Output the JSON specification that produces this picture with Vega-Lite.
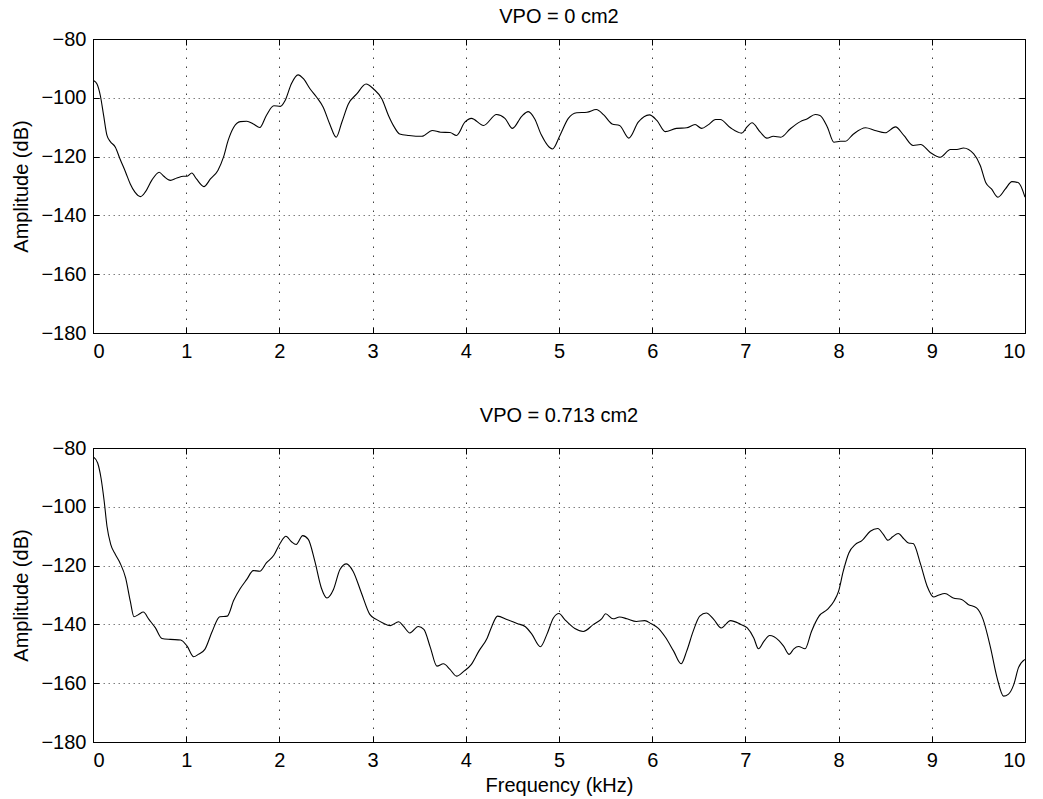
{
  "$schema": "https://vega.github.io/schema/vega-lite/v6.json",
  "background": "white",
  "padding": {"left": 11, "top": 6, "right": 5, "bottom": 0},
  "spacing": 43,
  "config": {
    "font": "Liberation Sans",
    "view": {"stroke": "#000", "strokeWidth": 1},
    "axis": {
      "labelFont": "Liberation Sans",
      "titleFont": "Liberation Sans",
      "labelFontSize": 20,
      "titleFontSize": 20,
      "titleFontWeight": "normal",
      "labelColor": "#000",
      "titleColor": "#000",
      "domainColor": "#000",
      "tickColor": "#000",
      "gridColor": "#000",
      "gridWidth": 1
    },
    "axisX": {"gridDash": [1.5, 7.5], "gridOpacity": 0.75},
    "axisY": {"gridDash": [1.5, 3.5], "gridOpacity": 0.5},
    "title": {"font": "Liberation Sans", "fontSize": 20, "fontWeight": "normal", "color": "#000"}
  },
  "datasets": {
    "top": [
      {"freq": 0.01, "db": -94.2}, {"freq": 0.043, "db": -95.3}, {"freq": 0.079, "db": -99.3}, {"freq": 0.114, "db": -106},
      {"freq": 0.15, "db": -112.8}, {"freq": 0.186, "db": -114.9}, {"freq": 0.24, "db": -116.8}, {"freq": 0.29, "db": -120.8},
      {"freq": 0.35, "db": -125.3}, {"freq": 0.4, "db": -129.3}, {"freq": 0.45, "db": -132.1}, {"freq": 0.51, "db": -133.6},
      {"freq": 0.56, "db": -132.1}, {"freq": 0.63, "db": -128.1}, {"freq": 0.71, "db": -125.3}, {"freq": 0.76, "db": -126.7},
      {"freq": 0.83, "db": -128.1}, {"freq": 0.9, "db": -127.3}, {"freq": 0.97, "db": -126.7}, {"freq": 1.01, "db": -126.7},
      {"freq": 1.06, "db": -125.6}, {"freq": 1.11, "db": -127.6}, {"freq": 1.19, "db": -130.2}, {"freq": 1.26, "db": -127.6},
      {"freq": 1.34, "db": -124.7}, {"freq": 1.4, "db": -120.2}, {"freq": 1.45, "db": -114.5}, {"freq": 1.51, "db": -110},
      {"freq": 1.58, "db": -108.1}, {"freq": 1.65, "db": -108}, {"freq": 1.72, "db": -108.9}, {"freq": 1.79, "db": -110.1},
      {"freq": 1.86, "db": -106}, {"freq": 1.94, "db": -102.7}, {"freq": 2.01, "db": -102.9}, {"freq": 2.06, "db": -101},
      {"freq": 2.13, "db": -95.1}, {"freq": 2.2, "db": -92.2}, {"freq": 2.26, "db": -93.6}, {"freq": 2.33, "db": -97},
      {"freq": 2.4, "db": -99.8}, {"freq": 2.47, "db": -103.2}, {"freq": 2.54, "db": -108.9}, {"freq": 2.61, "db": -113.4},
      {"freq": 2.67, "db": -108.3}, {"freq": 2.74, "db": -102.1}, {"freq": 2.83, "db": -98.7}, {"freq": 2.93, "db": -95.3},
      {"freq": 3.01, "db": -97}, {"freq": 3.1, "db": -100.4}, {"freq": 3.17, "db": -106}, {"freq": 3.23, "db": -109.8},
      {"freq": 3.29, "db": -112.3}, {"freq": 3.39, "db": -112.8}, {"freq": 3.53, "db": -113.1}, {"freq": 3.64, "db": -111.1},
      {"freq": 3.73, "db": -111.7}, {"freq": 3.83, "db": -111.8}, {"freq": 3.9, "db": -112.8}, {"freq": 3.99, "db": -108.3},
      {"freq": 4.06, "db": -107}, {"freq": 4.19, "db": -109.4}, {"freq": 4.33, "db": -105.7}, {"freq": 4.42, "db": -107},
      {"freq": 4.5, "db": -110.4}, {"freq": 4.6, "db": -106.3}, {"freq": 4.67, "db": -104.7}, {"freq": 4.74, "db": -107.2},
      {"freq": 4.81, "db": -112.6}, {"freq": 4.93, "db": -117.4}, {"freq": 5.01, "db": -112.8}, {"freq": 5.1, "db": -107},
      {"freq": 5.19, "db": -105.1}, {"freq": 5.3, "db": -104.9}, {"freq": 5.4, "db": -104}, {"freq": 5.48, "db": -105.8},
      {"freq": 5.57, "db": -108.9}, {"freq": 5.65, "db": -109.4}, {"freq": 5.75, "db": -113.7}, {"freq": 5.85, "db": -108.3},
      {"freq": 5.97, "db": -105.8}, {"freq": 6.05, "db": -107.7}, {"freq": 6.14, "db": -111.5}, {"freq": 6.26, "db": -110.4},
      {"freq": 6.37, "db": -110.2}, {"freq": 6.46, "db": -109.1}, {"freq": 6.53, "db": -110.4}, {"freq": 6.6, "db": -109.2},
      {"freq": 6.68, "db": -107.4}, {"freq": 6.73, "db": -107.4}, {"freq": 6.84, "db": -110.2}, {"freq": 6.96, "db": -112},
      {"freq": 7.02, "db": -109.8}, {"freq": 7.07, "db": -108.5}, {"freq": 7.16, "db": -111.7}, {"freq": 7.23, "db": -113.7},
      {"freq": 7.3, "db": -113.1}, {"freq": 7.38, "db": -113.4}, {"freq": 7.48, "db": -110.6}, {"freq": 7.59, "db": -108.1},
      {"freq": 7.66, "db": -107.2}, {"freq": 7.75, "db": -105.7}, {"freq": 7.8, "db": -106}, {"freq": 7.88, "db": -110},
      {"freq": 7.95, "db": -115.1}, {"freq": 8.02, "db": -114.8}, {"freq": 8.07, "db": -114.8}, {"freq": 8.16, "db": -112.3},
      {"freq": 8.29, "db": -110.2}, {"freq": 8.39, "db": -111.1}, {"freq": 8.5, "db": -111.9}, {"freq": 8.61, "db": -109.9},
      {"freq": 8.7, "db": -112.8}, {"freq": 8.8, "db": -116.2}, {"freq": 8.88, "db": -115.9}, {"freq": 8.98, "db": -118.5},
      {"freq": 9.09, "db": -120.2}, {"freq": 9.2, "db": -117.6}, {"freq": 9.27, "db": -117.6}, {"freq": 9.34, "db": -117.1},
      {"freq": 9.45, "db": -119.1}, {"freq": 9.52, "db": -123}, {"freq": 9.58, "db": -128.9}, {"freq": 9.64, "db": -131},
      {"freq": 9.71, "db": -133.8}, {"freq": 9.79, "db": -131}, {"freq": 9.86, "db": -128.5}, {"freq": 9.93, "db": -128.9},
      {"freq": 10.0, "db": -133.8}
    ],
    "bottom": [
      {"freq": 0.01, "db": -83.2}, {"freq": 0.05, "db": -85.1}, {"freq": 0.086, "db": -90.2}, {"freq": 0.12, "db": -98.1},
      {"freq": 0.15, "db": -106.6}, {"freq": 0.19, "db": -112.8}, {"freq": 0.24, "db": -116.2}, {"freq": 0.29, "db": -119.1},
      {"freq": 0.35, "db": -124.2}, {"freq": 0.4, "db": -132.1}, {"freq": 0.44, "db": -137.4}, {"freq": 0.49, "db": -136.6},
      {"freq": 0.54, "db": -135.8}, {"freq": 0.6, "db": -138.3}, {"freq": 0.67, "db": -141.2}, {"freq": 0.74, "db": -144.8},
      {"freq": 0.83, "db": -145.1}, {"freq": 0.94, "db": -145.3}, {"freq": 1.01, "db": -147.4}, {"freq": 1.08, "db": -151},
      {"freq": 1.13, "db": -150.2}, {"freq": 1.2, "db": -148.5}, {"freq": 1.28, "db": -142.3}, {"freq": 1.36, "db": -137.4},
      {"freq": 1.44, "db": -137.2}, {"freq": 1.51, "db": -131.8}, {"freq": 1.58, "db": -127.8}, {"freq": 1.65, "db": -124.7},
      {"freq": 1.72, "db": -121.7}, {"freq": 1.79, "db": -121.9}, {"freq": 1.86, "db": -119.1}, {"freq": 1.94, "db": -116.5},
      {"freq": 2.01, "db": -112.3}, {"freq": 2.07, "db": -110}, {"freq": 2.13, "db": -111.9}, {"freq": 2.18, "db": -112.8},
      {"freq": 2.25, "db": -109.8}, {"freq": 2.31, "db": -111.1}, {"freq": 2.38, "db": -118.5}, {"freq": 2.45, "db": -127.6},
      {"freq": 2.51, "db": -131}, {"freq": 2.58, "db": -128.1}, {"freq": 2.65, "db": -121.3}, {"freq": 2.72, "db": -119.4},
      {"freq": 2.79, "db": -121.9}, {"freq": 2.88, "db": -129.3}, {"freq": 2.97, "db": -136.6}, {"freq": 3.04, "db": -138.3},
      {"freq": 3.11, "db": -139.5}, {"freq": 3.19, "db": -140.4}, {"freq": 3.28, "db": -139.1}, {"freq": 3.33, "db": -140.6},
      {"freq": 3.4, "db": -142.9}, {"freq": 3.49, "db": -140.7}, {"freq": 3.55, "db": -141.7}, {"freq": 3.62, "db": -147.9},
      {"freq": 3.69, "db": -154.2}, {"freq": 3.76, "db": -153.4}, {"freq": 3.83, "db": -155.3}, {"freq": 3.9, "db": -157.6},
      {"freq": 3.98, "db": -155.9}, {"freq": 4.06, "db": -153.6}, {"freq": 4.14, "db": -149.1}, {"freq": 4.23, "db": -144.6},
      {"freq": 4.28, "db": -140.6}, {"freq": 4.34, "db": -137.2}, {"freq": 4.44, "db": -138.3}, {"freq": 4.55, "db": -139.7},
      {"freq": 4.64, "db": -140.8}, {"freq": 4.71, "db": -143.4}, {"freq": 4.8, "db": -147.6}, {"freq": 4.87, "db": -143.4},
      {"freq": 4.94, "db": -137.8}, {"freq": 5.0, "db": -136.3}, {"freq": 5.06, "db": -138.3}, {"freq": 5.17, "db": -141.4},
      {"freq": 5.26, "db": -142.4}, {"freq": 5.37, "db": -140}, {"freq": 5.46, "db": -138}, {"freq": 5.5, "db": -136.4},
      {"freq": 5.58, "db": -138.1}, {"freq": 5.65, "db": -137.5}, {"freq": 5.73, "db": -138.1}, {"freq": 5.83, "db": -139},
      {"freq": 5.92, "db": -138.7}, {"freq": 5.99, "db": -139.8}, {"freq": 6.06, "db": -141.2}, {"freq": 6.14, "db": -144.3},
      {"freq": 6.23, "db": -149.1}, {"freq": 6.31, "db": -153.4}, {"freq": 6.37, "db": -149.1}, {"freq": 6.44, "db": -142.3},
      {"freq": 6.51, "db": -137.2}, {"freq": 6.58, "db": -136.1}, {"freq": 6.66, "db": -138.3}, {"freq": 6.74, "db": -141.2},
      {"freq": 6.84, "db": -138.7}, {"freq": 6.95, "db": -140}, {"freq": 7.02, "db": -141.2}, {"freq": 7.09, "db": -144.6},
      {"freq": 7.14, "db": -148.3}, {"freq": 7.2, "db": -145.7}, {"freq": 7.26, "db": -143.8}, {"freq": 7.36, "db": -145.5},
      {"freq": 7.41, "db": -147.4}, {"freq": 7.47, "db": -150.2}, {"freq": 7.52, "db": -148.3}, {"freq": 7.57, "db": -147.5},
      {"freq": 7.64, "db": -148.3}, {"freq": 7.71, "db": -142.3}, {"freq": 7.79, "db": -137.2}, {"freq": 7.88, "db": -134.9},
      {"freq": 7.95, "db": -132.1}, {"freq": 8.0, "db": -128.7}, {"freq": 8.05, "db": -121.9}, {"freq": 8.11, "db": -115.7},
      {"freq": 8.18, "db": -112.8}, {"freq": 8.25, "db": -111.5}, {"freq": 8.34, "db": -108.3}, {"freq": 8.42, "db": -107.4},
      {"freq": 8.48, "db": -109.4}, {"freq": 8.53, "db": -111.4}, {"freq": 8.58, "db": -110.2}, {"freq": 8.64, "db": -109.1},
      {"freq": 8.7, "db": -110.9}, {"freq": 8.75, "db": -112.3}, {"freq": 8.8, "db": -112.5}, {"freq": 8.88, "db": -119.6},
      {"freq": 8.95, "db": -127}, {"freq": 9.02, "db": -130.7}, {"freq": 9.07, "db": -130.1}, {"freq": 9.14, "db": -129.5},
      {"freq": 9.23, "db": -131}, {"freq": 9.32, "db": -131.5}, {"freq": 9.39, "db": -133.2}, {"freq": 9.48, "db": -134.4},
      {"freq": 9.55, "db": -138.3}, {"freq": 9.63, "db": -147.9}, {"freq": 9.7, "db": -158.1}, {"freq": 9.77, "db": -164.4},
      {"freq": 9.82, "db": -163.8}, {"freq": 9.88, "db": -160.4}, {"freq": 9.93, "db": -154.7}, {"freq": 10.0, "db": -151.9}
    ]
  },
  "vconcat": [
    {
      "title": {"text": "VPO = 0 cm2", "offset": 2},
      "width": 932,
      "height": 294,
      "data": {"name": "top"},
      "layer": [
        {
          "mark": {"type": "line", "color": "#000", "strokeWidth": 1.1, "interpolate": "monotone", "clip": true},
          "encoding": {
            "x": {"field": "freq", "type": "quantitative", "scale": {"domain": [0, 10], "nice": false},
              "axis": {"orient": "bottom", "title": null, "values": [0,1,2,3,4,5,6,7,8,9,10], "tickSize": -6, "labelPadding": 14, "grid": true}},
            "y": {"field": "db", "type": "quantitative", "scale": {"domain": [-180, -80], "nice": false, "zero": false},
              "axis": {"orient": "left", "title": "Amplitude (dB)", "values": [-180,-160,-140,-120,-100,-80], "tickSize": -6, "labelPadding": 13, "titlePadding": 9, "grid": true}}
          }
        },
        {
          "mark": {"type": "line", "opacity": 0},
          "encoding": {
            "x": {"field": "freq", "type": "quantitative", "axis": {"orient": "top", "title": null, "labels": false, "grid": false, "domain": false, "values": [0,1,2,3,4,5,6,7,8,9,10], "tickSize": -6}},
            "y": {"field": "db", "type": "quantitative", "axis": {"orient": "right", "title": null, "labels": false, "grid": false, "domain": false, "values": [-180,-160,-140,-120,-100,-80], "tickSize": -6}}
          }
        }
      ],
      "resolve": {"axis": {"x": "independent", "y": "independent"}}
    },
    {
      "title": {"text": "VPO = 0.713 cm2", "offset": 12},
      "width": 932,
      "height": 294,
      "data": {"name": "bottom"},
      "layer": [
        {
          "mark": {"type": "line", "color": "#000", "strokeWidth": 1.1, "interpolate": "monotone", "clip": true},
          "encoding": {
            "x": {"field": "freq", "type": "quantitative", "scale": {"domain": [0, 10], "nice": false},
              "axis": {"orient": "bottom", "title": "Frequency (kHz)", "titlePadding": 5, "values": [0,1,2,3,4,5,6,7,8,9,10], "tickSize": -6, "labelPadding": 14, "grid": true}},
            "y": {"field": "db", "type": "quantitative", "scale": {"domain": [-180, -80], "nice": false, "zero": false},
              "axis": {"orient": "left", "title": "Amplitude (dB)", "values": [-180,-160,-140,-120,-100,-80], "tickSize": -6, "labelPadding": 13, "titlePadding": 9, "grid": true}}
          }
        },
        {
          "mark": {"type": "line", "opacity": 0},
          "encoding": {
            "x": {"field": "freq", "type": "quantitative", "axis": {"orient": "top", "title": null, "labels": false, "grid": false, "domain": false, "values": [0,1,2,3,4,5,6,7,8,9,10], "tickSize": -6}},
            "y": {"field": "db", "type": "quantitative", "axis": {"orient": "right", "title": null, "labels": false, "grid": false, "domain": false, "values": [-180,-160,-140,-120,-100,-80], "tickSize": -6}}
          }
        }
      ],
      "resolve": {"axis": {"x": "independent", "y": "independent"}}
    }
  ]
}
